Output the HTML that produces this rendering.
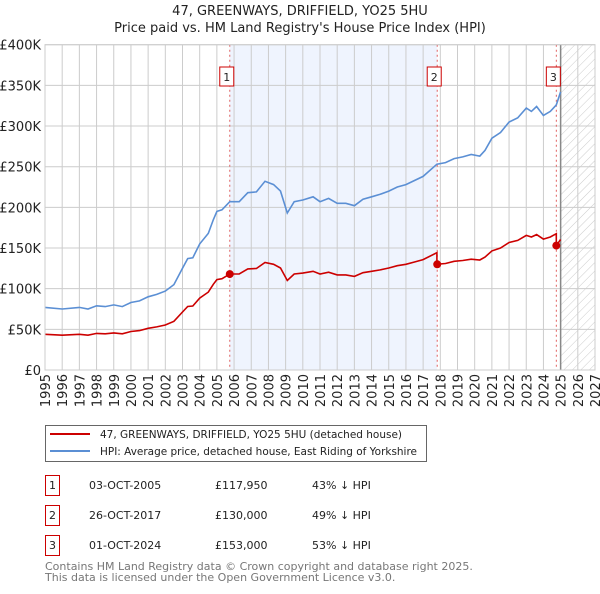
<!DOCTYPE html>
<html><head><meta charset="utf-8"><style>
body{margin:0;background:#fff;font-family:"DejaVu Sans","Liberation Sans",sans-serif;}
svg text{font-family:"DejaVu Sans","Liberation Sans",sans-serif;}
</style></head><body>
<svg id="chart" width="600" height="590" viewBox="0 0 600 590">
<defs><pattern id="hatch" width="6" height="6" patternUnits="userSpaceOnUse" patternTransform="rotate(45)"><line x1="0" y1="0" x2="0" y2="6" stroke="#ccc" stroke-width="1"/></pattern></defs>
<text x="300" y="15" text-anchor="middle" font-size="13" fill="#222">47, GREENWAYS, DRIFFIELD, YO25 5HU</text>
<text x="300" y="32" text-anchor="middle" font-size="13" fill="#222">Price paid vs. HM Land Registry's House Price Index (HPI)</text>
<g id="plot"></g>
<g>
<rect x="45.5" y="425.5" width="381" height="36" fill="#fff" stroke="#666"/>
<line x1="50" y1="434" x2="90" y2="434" stroke="#cc0000" stroke-width="2"/>
<text x="100" y="438" font-size="11" fill="#222" textLength="302" lengthAdjust="spacingAndGlyphs">47, GREENWAYS, DRIFFIELD, YO25 5HU (detached house)</text>
<line x1="50" y1="451" x2="90" y2="451" stroke="#5b8fd4" stroke-width="2"/>
<text x="100" y="455" font-size="11" fill="#222" textLength="317" lengthAdjust="spacingAndGlyphs">HPI: Average price, detached house, East Riding of Yorkshire</text>
</g>
<g font-size="11" fill="#222">
<rect x="45.5" y="475.5" width="14" height="20" fill="#fff" stroke="#cc0000"/><text x="52.5" y="489" text-anchor="middle">1</text>
<text x="89" y="489">03-OCT-2005</text><text x="215" y="489">£117,950</text><text x="312" y="489">43% ↓ HPI</text>
<rect x="45.5" y="505.5" width="14" height="20" fill="#fff" stroke="#cc0000"/><text x="52.5" y="519" text-anchor="middle">2</text>
<text x="89" y="519">26-OCT-2017</text><text x="215" y="519">£130,000</text><text x="312" y="519">49% ↓ HPI</text>
<rect x="45.5" y="535.5" width="14" height="20" fill="#fff" stroke="#cc0000"/><text x="52.5" y="549" text-anchor="middle">3</text>
<text x="89" y="549">01-OCT-2024</text><text x="215" y="549">£153,000</text><text x="312" y="549">53% ↓ HPI</text>
</g>
<text x="45" y="570" font-size="11" fill="#777">Contains HM Land Registry data © Crown copyright and database right 2025.</text>
<text x="45" y="581" font-size="11" fill="#777">This data is licensed under the Open Government Licence v3.0.</text>
</svg>
<script>
const hpiDates=[1995,1996,1997,1997.5,1998,1998.5,1999,1999.5,2000,2000.5,2001,2001.5,2002,2002.5,2003,2003.3,2003.6,2004,2004.5,2004.8,2005,2005.3,2005.75,2006.3,2006.8,2007.3,2007.8,2008.3,2008.7,2009.1,2009.5,2010,2010.6,2011,2011.5,2012,2012.5,2013,2013.5,2014,2014.5,2015,2015.5,2016,2016.5,2017,2017.8,2018.3,2018.8,2019.3,2019.8,2020.3,2020.6,2021,2021.5,2022,2022.5,2023,2023.3,2023.6,2024,2024.4,2024.75,2025];
const hpiValues=[77,75,77,75,79,78,80,78,83,85,90,93,97,105,125,137,138,155,168,185,195,197,207,207,218,219,232,228,220,193,207,209,213,207,211,205,205,202,210,213,216,220,225,228,233,238,253,255,260,262,265,263,270,285,292,305,310,322,318,324,313,318,326,342];
const priceDates=[1995,1996,1997,1997.5,1998,1998.5,1999,1999.5,2000,2000.5,2001,2001.5,2002,2002.5,2003,2003.3,2003.6,2004,2004.5,2004.8,2005,2005.3,2005.75,2006.3,2006.8,2007.3,2007.8,2008.3,2008.7,2009.1,2009.5,2010,2010.6,2011,2011.5,2012,2012.5,2013,2013.5,2014,2014.5,2015,2015.5,2016,2016.5,2017,2017.8,2017.8,2018.3,2018.8,2019.3,2019.8,2020.3,2020.6,2021,2021.5,2022,2022.5,2023,2023.3,2023.6,2024,2024.4,2024.75,2024.75,2025];
const priceValues=[43.9,42.8,43.9,42.8,45,44.5,45.6,44.5,47.3,48.5,51.3,53,55.3,59.9,71.3,78.1,78.7,88.4,95.8,105.5,111.2,112.3,118,118,124.3,124.8,132.2,130,125.4,110,118,119.1,121.4,118,120.3,116.9,116.9,115.1,119.7,121.4,123.1,125.4,128.3,130,132.8,135.7,144.2,130,131,133.6,134.7,136.2,135.2,138.8,146.5,150,156.8,159.3,165.5,163.5,166.5,160.9,163.5,167.6,153,160.5];
const saleDates=[2005.75,2017.82,2024.75];
const saleValues=[117.95,130,153];
const saleLabels=["1","2","3"];
const yTicks=[0,50,100,150,200,250,300,350,400];
const yTickLabels=["£0","£50K","£100K","£150K","£200K","£250K","£300K","£350K","£400K"];
const xYears=[1995,1996,1997,1998,1999,2000,2001,2002,2003,2004,2005,2006,2007,2008,2009,2010,2011,2012,2013,2014,2015,2016,2017,2018,2019,2020,2021,2022,2023,2024,2025,2026,2027];

const X0=45,X1=595,Y0=370,Y1=44.7;
const xs=d=>X0+(d-1995)/(2027-1995)*(X1-X0);
const ys=v=>Y0-v/400*(Y0-Y1);
const NS="http://www.w3.org/2000/svg";
const g=document.getElementById('plot');
function mk(tag,attrs,parent){const e=document.createElementNS(NS,tag);for(const k in attrs)e.setAttribute(k,attrs[k]);(parent||g).appendChild(e);return e;}

let sh=mk('rect',{x:xs(saleDates[0]),y:Y1,width:xs(saleDates[1])-xs(saleDates[0]),height:Y0-Y1,fill:'#eaf0fd',opacity:0.75});


let ht=mk('rect',{x:xs(2025),y:Y1,width:X1-xs(2025),height:Y0-Y1,fill:'url(#hatch)'});



yTicks.forEach((t,i)=>{
  const l=mk('line',{x1:X0,x2:X1,y1:ys(t),y2:ys(t),stroke:'#ccc','stroke-width':1});
  
  
  const tx=mk('text',{x:X0-4,y:ys(t)+5,'text-anchor':'end','font-size':13,fill:'#222'});
  tx.textContent=yTickLabels[i];
  
  
});
xYears.forEach(yr=>{
  const l=mk('line',{x1:xs(yr),x2:xs(yr),y1:Y1,y2:Y0,stroke:'#ccc','stroke-width':1});
  
  
  const tx=mk('text',{x:0,y:0,'text-anchor':'end','font-size':13,fill:'#222',transform:`translate(${xs(yr)+5},${Y0+4}) rotate(-90)`});
  tx.textContent=yr;
  
  
});
let fl=mk('line',{x1:xs(2025),x2:xs(2025),y1:Y1,y2:Y0,stroke:'#888','stroke-width':1.5});



saleDates.forEach((d,i)=>{
  const l=mk('line',{x1:xs(d),x2:xs(d),y1:Y1,y2:Y0,stroke:'#e06060','stroke-width':1,'stroke-dasharray':'2,3'});
  
  
  const b=mk('rect',{x:xs(d)-10,y:67,width:14,height:19,fill:'#fff',stroke:'#cc0000'});
  
  
  const t=mk('text',{x:xs(d)-3,y:81,'text-anchor':'middle','font-size':11,fill:'#222'});
  t.textContent=saleLabels[i];
  
  
});

const hp=mk('path',{d:hpiDates.map((d,i)=>(i?'L':'M')+xs(d).toFixed(1)+','+ys(hpiValues[i]).toFixed(1)).join(''),fill:'none',stroke:'#5b8fd4','stroke-width':1.6});


const pp=mk('path',{d:priceDates.map((d,i)=>(i?'L':'M')+xs(d).toFixed(1)+','+ys(priceValues[i]).toFixed(1)).join(''),fill:'none',stroke:'#cc0000','stroke-width':1.6});


saleDates.forEach((d,i)=>{
  const c=mk('circle',{cx:xs(d),cy:ys(saleValues[i]),r:4,fill:'#cc0000'});
  
  
});
let ax=mk('rect',{x:X0,y:Y1,width:X1-X0,height:Y0-Y1,fill:'none',stroke:'#ccc'});


</script>
</body></html>
